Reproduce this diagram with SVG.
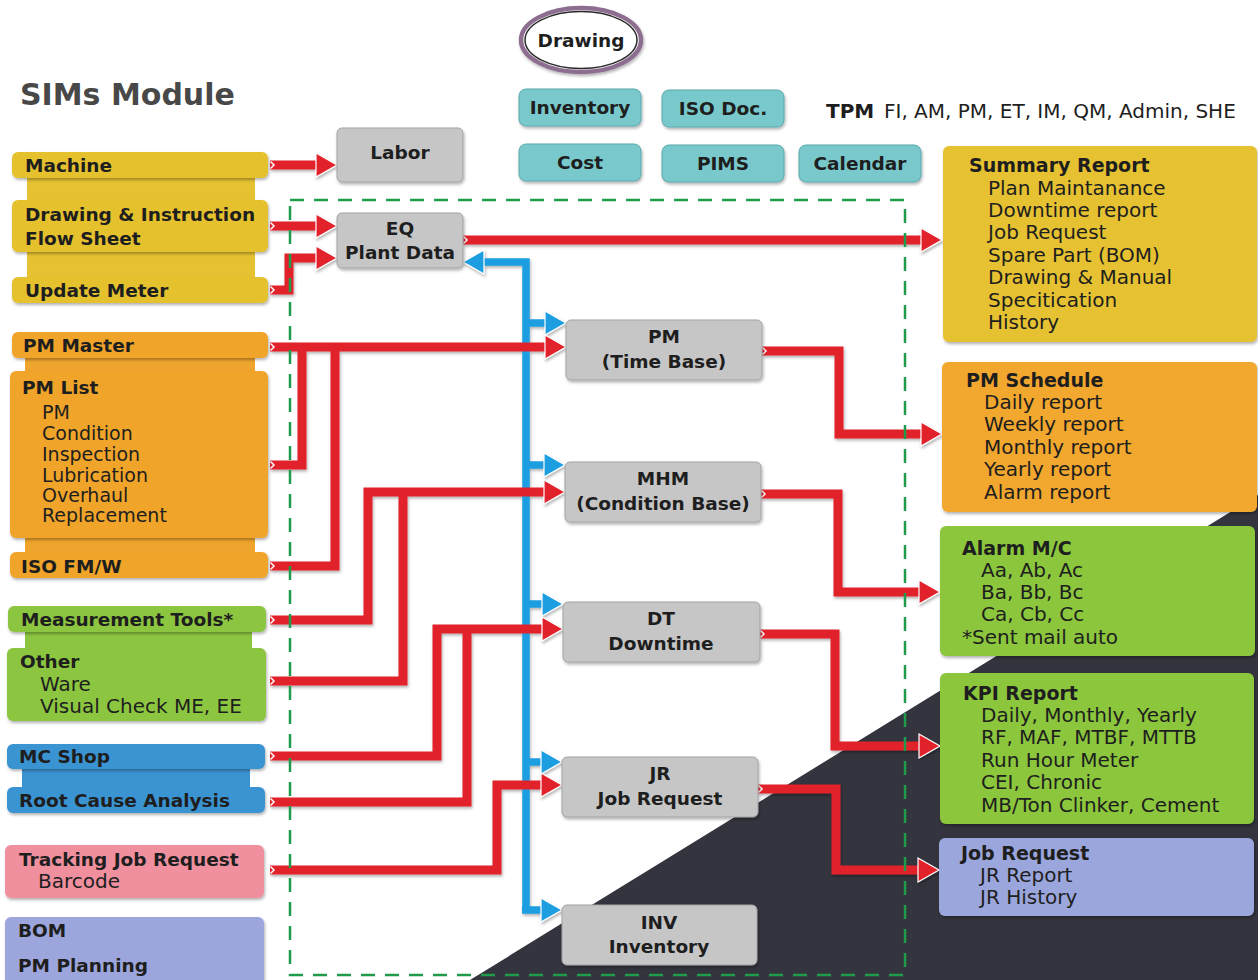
<svg xmlns="http://www.w3.org/2000/svg" width="1258" height="980" viewBox="0 0 1258 980">
<style>
  .t{font-family:"DejaVu Sans","Liberation Sans",sans-serif;fill:#1e1e1e}
  .b{font-weight:bold;font-size:18.5px}
  .h{font-weight:bold;font-size:19px}
  .r{font-size:20px}
  .s{font-size:19px}
  .c{text-anchor:middle}
  .gray{fill:#c6c6c6;stroke:#a3a3a3;stroke-width:1}
  .teal{fill:#79c9cc;stroke:#5aa7ab;stroke-width:1}
  .red{fill:none;stroke:#e2202a;stroke-width:9;stroke-linejoin:miter;marker-start:url(#chev)}
  .ra{marker-end:url(#ar)}
  .blue{fill:none;stroke:#1e9ee0;stroke-width:7.5;stroke-linejoin:miter}
  .ba{marker-end:url(#ab)}
</style>
<defs>
  <filter id="sh" x="-10%" y="-10%" width="120%" height="130%">
    <feDropShadow dx="1" dy="2" stdDeviation="1.5" flood-color="#000" flood-opacity="0.3"/>
  </filter>
  <marker id="ar" markerUnits="userSpaceOnUse" orient="auto" overflow="visible" markerWidth="1" markerHeight="1" refX="0" refY="0">
    <path d="M-1,-12 L20,0 L-1,12 Z" fill="#e2202a" stroke="#ffffff" stroke-width="1.2"/>
  </marker>
  <marker id="ab" markerUnits="userSpaceOnUse" orient="auto" overflow="visible" markerWidth="1" markerHeight="1" refX="0" refY="0">
    <path d="M-1,-12 L20,0 L-1,12 Z" fill="#1e9ee0" stroke="#ffffff" stroke-width="1.2"/>
  </marker>
  <marker id="chev" markerUnits="userSpaceOnUse" orient="auto" overflow="visible" markerWidth="1" markerHeight="1" refX="0" refY="0">
    <path d="M0.5,-3.5 L4,0 L0.5,3.5" fill="none" stroke="#ffffff" stroke-width="1.5"/>
  </marker>
</defs>

<rect x="0" y="0" width="1258" height="980" fill="#ffffff"/>
<polygon points="470,980 1258,495 1258,980" fill="#33343d"/>

<text class="t" x="20" y="105" style="font-weight:bold;font-size:30px;fill:#484848">SIMs Module</text>

<g id="tpm">
  <text class="t" x="826" y="118" style="font-weight:bold;font-size:20px">TPM</text>
  <text class="t" x="884" y="118" style="font-size:20px">FI, AM, PM, ET, IM, QM, Admin, SHE</text>
</g>

<!-- top teal modules -->
<g id="drawing">
  <ellipse cx="581" cy="40" rx="60" ry="32" fill="#ffffff" stroke="#8e6e90" stroke-width="4.5" filter="url(#sh)"/>
  <ellipse cx="581" cy="40" rx="56" ry="28.5" fill="none" stroke="#2a2a2a" stroke-width="1.5"/>
  <text class="t b c" x="581" y="47">Drawing</text>
</g>
<g id="inventory-top"><rect class="teal" x="519" y="89" width="122" height="37" rx="7" filter="url(#sh)"/><text class="t b c" x="580" y="114">Inventory</text></g>
<g id="isodoc"><rect class="teal" x="662" y="90" width="122" height="37" rx="7" filter="url(#sh)"/><text class="t b c" x="723" y="115">ISO Doc.</text></g>
<g id="cost"><rect class="teal" x="519" y="144" width="122" height="37" rx="7" filter="url(#sh)"/><text class="t b c" x="580" y="169">Cost</text></g>
<g id="pims"><rect class="teal" x="662" y="145" width="122" height="37" rx="7" filter="url(#sh)"/><text class="t b c" x="723" y="170">PIMS</text></g>
<g id="calendar"><rect class="teal" x="799" y="145" width="122" height="37" rx="7" filter="url(#sh)"/><text class="t b c" x="860" y="170">Calendar</text></g>

<!-- connectors -->
<g id="connectors" filter="url(#sh)">
  <path class="blue ba" d="M526,912 V262 H483"/>
  <path class="blue ba" d="M526,323 H546"/>
  <path class="blue ba" d="M526,465 H545"/>
  <path class="blue ba" d="M526,604 H543"/>
  <path class="blue ba" d="M526,762 H542"/>
  <path class="blue ba" d="M522,910 H542"/>

  <path class="red ra" d="M270,165 H317"/>
  <path class="red ra" d="M270,226 H317"/>
  <path class="red ra" d="M270,290 H289 V258 H317"/>
  <path class="red ra" d="M463,240 H922"/>
  <path class="red ra" d="M270,347 H546"/>
  <path class="red" d="M270,465 H302 V343"/>
  <path class="red" d="M270,566 H335 V343"/>
  <path class="red ra" d="M270,620 H368 V492 H545"/>
  <path class="red" d="M270,681 H403 V488"/>
  <path class="red ra" d="M270,756 H437 V629 H543"/>
  <path class="red" d="M270,802 H467 V625"/>
  <path class="red ra" d="M270,870 H497 V785 H542"/>
  <path class="red ra" d="M762,351 H839 V434 H922"/>
  <path class="red ra" d="M761,494 H838 V592 H920"/>
  <path class="red ra" d="M760,634 H835 V746 H920"/>
  <path class="red ra" d="M758,789 H836 V870 H919"/>
</g>

<rect id="boundary" x="290" y="200" width="615" height="775" fill="none" stroke="#1f9b4c" stroke-width="2.5" stroke-dasharray="14 10"/>

<!-- left bands -->
<g id="bands">
  <rect x="27" y="165" width="228" height="130" fill="#e6c232"/>
  <rect x="25" y="345" width="230" height="220" fill="#efa52d"/>
  <rect x="25" y="620" width="227" height="80" fill="#8cc641"/>
  <rect x="22" y="756" width="228" height="44" fill="#3b94d2"/>
</g>

<!-- left nodes -->
<g id="machine"><rect x="12" y="152" width="256" height="26" rx="6" fill="#e5c12e" filter="url(#sh)"/><text class="t b" x="25" y="172">Machine</text></g>
<g id="drawing-instruction"><rect x="12" y="200" width="256" height="52" rx="6" fill="#e5c12e" filter="url(#sh)"/><text class="t b" x="25" y="221">Drawing &amp; Instruction</text><text class="t b" x="25" y="245">Flow Sheet</text></g>
<g id="update-meter"><rect x="12" y="277" width="256" height="26" rx="6" fill="#e5c12e" filter="url(#sh)"/><text class="t b" x="25" y="297">Update Meter</text></g>
<g id="pm-master"><rect x="12" y="332" width="256" height="26" rx="6" fill="#f0a52c" filter="url(#sh)"/><text class="t b" x="23" y="352">PM Master</text></g>
<g id="pm-list"><rect x="10" y="371" width="258" height="167" rx="6" fill="#f0a52c" filter="url(#sh)"/>
  <text class="t b" x="22" y="394">PM List</text>
  <text class="t s" x="42" y="419">PM</text>
  <text class="t s" x="42" y="440">Condition</text>
  <text class="t s" x="42" y="461">Inspection</text>
  <text class="t s" x="42" y="482">Lubrication</text>
  <text class="t s" x="42" y="502">Overhaul</text>
  <text class="t s" x="42" y="522">Replacement</text>
</g>
<g id="iso-fmw"><rect x="10" y="552" width="258" height="26" rx="6" fill="#f0a52c" filter="url(#sh)"/><text class="t b" x="21" y="573">ISO FM/W</text></g>
<g id="measurement-tools"><rect x="8" y="606" width="258" height="26" rx="6" fill="#8cc641" filter="url(#sh)"/><text class="t b" x="21" y="626">Measurement Tools*</text></g>
<g id="other"><rect x="7" y="648" width="259" height="73" rx="6" fill="#8cc641" filter="url(#sh)"/>
  <text class="t b" x="20" y="668">Other</text>
  <text class="t r" x="40" y="691">Ware</text>
  <text class="t r" x="40" y="713">Visual Check ME, EE</text>
</g>
<g id="mc-shop"><rect x="7" y="744" width="258" height="25" rx="6" fill="#3b94d2" filter="url(#sh)"/><text class="t b" x="19" y="763">MC Shop</text></g>
<g id="root-cause"><rect x="7" y="787" width="258" height="26" rx="6" fill="#3b94d2" filter="url(#sh)"/><text class="t b" x="19" y="807">Root Cause Analysis</text></g>
<g id="tracking-jr"><rect x="5" y="845" width="259" height="53" rx="6" fill="#f0909f" filter="url(#sh)"/>
  <text class="t b" x="19" y="866">Tracking Job Request</text>
  <text class="t r" x="38" y="888">Barcode</text>
</g>
<g id="bom"><rect x="5" y="917" width="259" height="72" rx="6" fill="#9ca6dd" filter="url(#sh)"/>
  <text class="t b" x="18" y="937">BOM</text>
  <text class="t b" x="18" y="972">PM Planning</text>
</g>

<!-- middle nodes -->
<g id="labor"><rect class="gray" x="337" y="128" width="126" height="54" rx="5" filter="url(#sh)"/><text class="t b c" x="400" y="159">Labor</text></g>
<g id="eq"><rect class="gray" x="337" y="213" width="126" height="55" rx="5" filter="url(#sh)"/><text class="t b c" x="400" y="235">EQ</text><text class="t b c" x="400" y="259">Plant Data</text></g>
<g id="pm"><rect class="gray" x="566" y="320" width="196" height="60" rx="5" filter="url(#sh)"/><text class="t b c" x="664" y="343">PM</text><text class="t b c" x="664" y="368">(Time Base)</text></g>
<g id="mhm"><rect class="gray" x="565" y="462" width="196" height="60" rx="5" filter="url(#sh)"/><text class="t b c" x="663" y="485">MHM</text><text class="t b c" x="663" y="510">(Condition Base)</text></g>
<g id="dt"><rect class="gray" x="563" y="602" width="197" height="60" rx="5" filter="url(#sh)"/><text class="t b c" x="661" y="625">DT</text><text class="t b c" x="661" y="650">Downtime</text></g>
<g id="jr"><rect class="gray" x="562" y="757" width="196" height="60" rx="5" filter="url(#sh)"/><text class="t b c" x="660" y="780">JR</text><text class="t b c" x="660" y="805">Job Request</text></g>
<g id="inv"><rect class="gray" x="562" y="905" width="195" height="60" rx="5" filter="url(#sh)"/><text class="t b c" x="659" y="929">INV</text><text class="t b c" x="659" y="953">Inventory</text></g>

<!-- right nodes -->
<g id="summary-report"><rect x="943" y="146" width="314" height="196" rx="6" fill="#e6c233" filter="url(#sh)"/>
  <text class="t h" x="969" y="172">Summary Report</text>
  <text class="t r" x="988" y="195">Plan Maintanance</text>
  <text class="t r" x="988" y="217">Downtime report</text>
  <text class="t r" x="988" y="239">Job Request</text>
  <text class="t r" x="988" y="262">Spare Part (BOM)</text>
  <text class="t r" x="988" y="284">Drawing &amp; Manual</text>
  <text class="t r" x="988" y="307">Specitication</text>
  <text class="t r" x="988" y="329">History</text>
</g>
<g id="pm-schedule"><rect x="942" y="362" width="315" height="150" rx="6" fill="#f2a72e" filter="url(#sh)"/>
  <text class="t h" x="966" y="387">PM Schedule</text>
  <text class="t r" x="984" y="409">Daily report</text>
  <text class="t r" x="984" y="431">Weekly report</text>
  <text class="t r" x="984" y="454">Monthly report</text>
  <text class="t r" x="984" y="476">Yearly report</text>
  <text class="t r" x="984" y="499">Alarm report</text>
</g>
<g id="alarm-mc"><rect x="940" y="526" width="315" height="130" rx="6" fill="#8bc63e" filter="url(#sh)"/>
  <text class="t h" x="962" y="555">Alarm M/C</text>
  <text class="t r" x="981" y="577">Aa, Ab, Ac</text>
  <text class="t r" x="981" y="599">Ba, Bb, Bc</text>
  <text class="t r" x="981" y="621">Ca, Cb, Cc</text>
  <text class="t r" x="962" y="644">*Sent mail auto</text>
</g>
<g id="kpi-report"><rect x="940" y="673" width="314" height="151" rx="6" fill="#8bc63e" filter="url(#sh)"/>
  <text class="t h" x="963" y="700">KPI Report</text>
  <text class="t r" x="981" y="722">Daily, Monthly, Yearly</text>
  <text class="t r" x="981" y="744">RF, MAF, MTBF, MTTB</text>
  <text class="t r" x="981" y="767">Run Hour Meter</text>
  <text class="t r" x="981" y="789">CEI, Chronic</text>
  <text class="t r" x="981" y="812">MB/Ton Clinker, Cement</text>
</g>
<g id="job-request-report"><rect x="939" y="838" width="315" height="78" rx="6" fill="#9aa6dc" filter="url(#sh)"/>
  <text class="t h" x="961" y="860">Job Request</text>
  <text class="t r" x="980" y="882">JR Report</text>
  <text class="t r" x="980" y="904">JR History</text>
</g>
</svg>
